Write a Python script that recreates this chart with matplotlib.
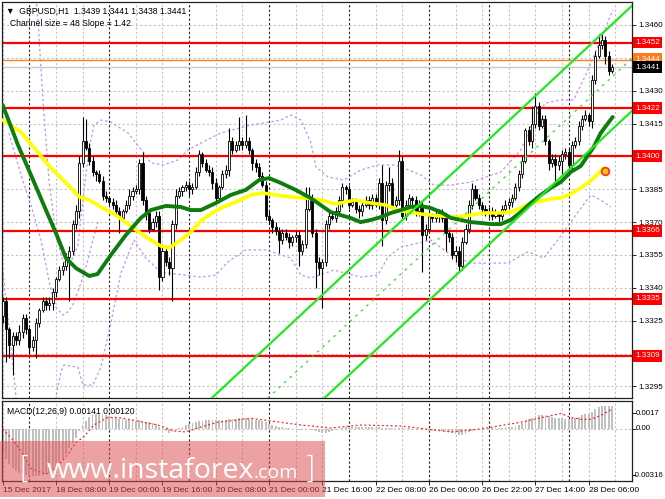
import matplotlib
matplotlib.use('Agg')
import matplotlib.pyplot as plt
from matplotlib.patches import Rectangle

plt.rcParams['font.family'] = ['Liberation Sans', 'DejaVu Sans']

# hourly candles, bar 0 = 15 Dec 16:00
closes = [
    1.3334, 1.3321, 1.3314, 1.3318, 1.3316, 1.3320, 1.3326, 1.3321, 1.3313, 1.3316,
    1.3324, 1.3330, 1.3334, 1.3332, 1.3333, 1.3338, 1.3344, 1.3348, 1.3350, 1.3354,
    1.3357, 1.3369, 1.3375, 1.3397, 1.3407, 1.3404, 1.3398, 1.3393, 1.3392, 1.3389,
    1.3382, 1.3381, 1.3379, 1.3378, 1.3375, 1.3372, 1.3375, 1.3378, 1.3382, 1.3384,
    1.3385, 1.3397, 1.3380, 1.3374, 1.3367, 1.3370, 1.3373, 1.3345, 1.3357, 1.3352,
    1.3349, 1.3369, 1.3382, 1.3384, 1.3386, 1.3387, 1.3385, 1.3386, 1.3393, 1.3401,
    1.3397, 1.3394, 1.3393, 1.3388, 1.3381, 1.3386, 1.3392, 1.3394, 1.3407, 1.3403,
    1.3405, 1.3407, 1.3405, 1.3407, 1.3403, 1.3397, 1.3395, 1.3391, 1.3387, 1.3373,
    1.3371, 1.3368, 1.3366, 1.3362, 1.3365, 1.3363, 1.3361, 1.3363, 1.3364, 1.3357,
    1.3360, 1.3376, 1.3381, 1.3365, 1.3352, 1.3349, 1.3352, 1.3369, 1.3373, 1.3372,
    1.3375, 1.3380, 1.3386, 1.3385, 1.3378, 1.3379, 1.3376, 1.3375, 1.3378, 1.3380,
    1.3378, 1.3381, 1.3378, 1.3388, 1.3371, 1.3387, 1.3388, 1.3378, 1.3380, 1.3398,
    1.3373, 1.3378, 1.3381, 1.3380, 1.3375, 1.3378, 1.3364, 1.3367, 1.3373, 1.3372,
    1.3373, 1.3374, 1.3372, 1.3365, 1.3363, 1.3355, 1.3357, 1.3350, 1.3361, 1.3367,
    1.3378, 1.3385, 1.3381, 1.3378, 1.3376, 1.3374, 1.3375, 1.3373, 1.3374, 1.3373,
    1.3376, 1.3378, 1.3379, 1.3381, 1.3386, 1.3392, 1.3398, 1.3412, 1.3407, 1.3415,
    1.3423, 1.3414, 1.3417, 1.3407, 1.3397, 1.3399, 1.3396, 1.3398, 1.3401, 1.3402,
    1.3396, 1.3405, 1.3407, 1.3414, 1.3417, 1.3419, 1.3416, 1.3435, 1.3446, 1.3451,
    1.3453, 1.3446, 1.3439, 1.3441]
first_open = 1.3327
# wick lengths in pips
upper_wick = [
    2, 2, 1, 2, 2, 3, 2, 2, 1, 2, 2, 1, 2, 2, 3, 2, 1, 2, 2, 2,
    2, 2, 3, 3, 11, 10, 2, 2, 1, 2, 2, 2, 1, 2, 2, 2, 1, 2, 3, 2,
    2, 2, 5, 2, 1, 2, 2, 2, 3, 2, 2, 2, 3, 2, 1, 2, 2, 2, 2, 2,
    1, 2, 2, 2, 2, 1, 2, 2, 6, 2, 2, 11, 2, 12, 2, 1, 2, 2, 2, 2,
    2, 1, 2, 2, 2, 2, 2, 1, 2, 2, 2, 10, 5, 2, 2, 2, 1, 2, 2, 2,
    2, 2, 2, 1, 2, 2, 2, 2, 1, 2, 2, 2, 2, 2, 8, 2, 7, 2, 2, 5,
    2, 2, 2, 1, 2, 2, 2, 2, 2, 1, 2, 2, 2, 2, 1, 2, 2, 2, 2, 2,
    2, 3, 2, 2, 1, 2, 2, 2, 2, 1, 2, 2, 2, 2, 2, 2, 2, 1, 2, 8,
    6, 2, 2, 2, 1, 2, 2, 2, 2, 2, 2, 2, 2, 2, 2, 2, 1, 2, 2, 5,
    3, 2, 2, 1]
lower_wick = [
    3, 15, 6, 14, 2, 2, 3, 2, 3, 2, 8, 2, 1, 2, 2, 3, 2, 1, 2, 2,
    20, 2, 2, 3, 2, 1, 2, 2, 3, 1, 2, 2, 1, 2, 2, 7, 2, 1, 2, 2,
    1, 2, 2, 3, 2, 1, 2, 6, 2, 2, 3, 15, 2, 1, 2, 2, 3, 2, 1, 2,
    2, 1, 2, 3, 2, 2, 1, 2, 3, 2, 1, 2, 2, 1, 2, 3, 2, 2, 1, 2,
    2, 3, 2, 6, 2, 1, 3, 2, 2, 7, 2, 2, 1, 2, 12, 3, 18, 2, 2, 1,
    2, 2, 3, 2, 2, 1, 2, 3, 2, 1, 2, 2, 1, 2, 12, 2, 3, 2, 1, 2,
    2, 2, 1, 3, 2, 2, 17, 2, 1, 2, 2, 3, 2, 8, 2, 2, 3, 3, 2, 1,
    2, 2, 1, 2, 2, 1, 2, 2, 1, 3, 2, 1, 2, 2, 1, 2, 2, 1, 2, 3,
    2, 2, 1, 2, 3, 2, 7, 2, 6, 2, 3, 2, 1, 2, 2, 1, 2, 3, 2, 1,
    2, 4, 2, 1]

# moving averages (bar, price)
green_ma_bar = [0, 4.6, 8.5, 13, 16, 19, 22, 26, 28.5, 32.5, 37, 41.5, 44.5, 49, 53.5,
                56.5, 59.5, 64, 68.5, 73, 77, 80, 83.5, 88, 92.5, 95.5, 98.5, 101.5,
                104.5, 107.5, 110.6, 113.6, 116.6, 119.6, 122.6, 125.6, 128.6, 131.6,
                134.6, 137.6, 140.6, 143.6, 146.6, 149.6, 152.6, 155.6, 158.6, 161.6,
                164.6, 167.6, 170.6, 173.6, 177.5, 179.6, 183.2]
green_ma = [1.34235, 1.34052, 1.33915, 1.33755, 1.33650, 1.33536, 1.33490, 1.33454,
            1.33463, 1.33550, 1.33641, 1.33719, 1.33755, 1.33774, 1.33769, 1.33755,
            1.33755, 1.33787, 1.33824, 1.33847, 1.33892, 1.33901, 1.33879, 1.33847,
            1.33810, 1.33778, 1.33746, 1.33732, 1.33719, 1.33700, 1.33710, 1.33723,
            1.33742, 1.33755, 1.33769, 1.33774, 1.33764, 1.33746, 1.33719, 1.33710,
            1.33700, 1.33696, 1.33691, 1.33691, 1.33710, 1.33746, 1.33787, 1.33824,
            1.33856, 1.33883, 1.33929, 1.33956, 1.34043, 1.34107, 1.34180]
yellow_ma_bar = [0, 5.5, 10, 14.5, 19, 23, 26, 29.5, 34, 38.5, 43, 47.5, 50, 53.5, 56.5,
                 59.5, 62.5, 65.5, 70, 74.5, 78, 82, 86.5, 91, 95.5, 100, 103, 106,
                 110.6, 115, 119.6, 122.6, 125.6, 131.6, 136.1, 140.6, 145.1, 149.6,
                 152.6, 155.6, 158.6, 161.6, 164.6, 167.6, 170.6, 173.6, 176.6, 180.5]
yellow_ma = [1.34166, 1.34111, 1.34029, 1.33947, 1.33879, 1.33815, 1.33801, 1.33769,
             1.33732, 1.33682, 1.33632, 1.33591, 1.33582, 1.33618, 1.33655, 1.33705,
             1.33737, 1.33764, 1.33792, 1.33824, 1.33833, 1.33824, 1.33815, 1.33810,
             1.33801, 1.33783, 1.33792, 1.33801, 1.33787, 1.33778, 1.33751, 1.33746,
             1.33737, 1.33728, 1.33723, 1.33732, 1.33742, 1.33742, 1.33746, 1.33764,
             1.33787, 1.33796, 1.33806, 1.33810, 1.33828, 1.33856, 1.33888, 1.33947]

# purple dotted bands (bar, price)
band_up_bar = [10.0, 10.6, 12.1, 13.9, 16.0, 18.1, 20.5, 22.6, 24.1, 25.9, 27.4, 29.5,
               32.5, 37.6, 42.4, 44.5, 48.4, 52.6, 55.6, 59.5, 65.5, 74.5, 83.5, 86.5,
               89.6, 92.6, 94.1, 97.7, 102.5, 107.6, 112.7, 117.5, 119.6, 125.6, 129.5,
               134.6, 140.6, 149.6, 155.6, 160.1, 163.1, 167.6, 171.5, 175.1, 179.6,
               183.2]
band_up = [1.34737, 1.34623, 1.34258, 1.33892, 1.33641, 1.33518, 1.33518, 1.33595,
           1.33801, 1.34029, 1.34143, 1.34166, 1.34157, 1.34107, 1.34016, 1.33970,
           1.33961, 1.33984, 1.34029, 1.34061, 1.34107, 1.34143, 1.34166, 1.34189,
           1.34166, 1.34061, 1.33952, 1.33906, 1.33892, 1.33938, 1.33961, 1.33961,
           1.33952, 1.33915, 1.33869, 1.33869, 1.33883, 1.33929, 1.34029, 1.34189,
           1.34244, 1.34258, 1.34258, 1.34372, 1.34532, 1.34668]
band_mid_bar = [1.9, 5.5, 8.5, 11.5, 14.5, 16.0, 18.1, 19.6, 21.1, 23.5, 25.6, 27.1, 28.6]
band_mid = [1.34107, 1.33915, 1.33778, 1.33618, 1.33390, 1.33312, 1.33276, 1.33290,
            1.33322, 1.33422, 1.33527, 1.33618, 1.33700]
band_dn_bar = [0, 1.0, 2.5, 4.0, 4.9, 14.5, 16.0, 17.5, 18.4, 20.5, 22.6, 24.1, 27.1,
               29.5, 32.5, 35.5, 39.4, 43.0, 47.5, 49.6, 59.5, 64.0, 67.6, 73.0, 79.0,
               86.5, 89.6, 92.6, 99.5, 107.6, 112.7, 115.7, 119.6, 128.6, 134.6, 140.6,
               151.7, 157.7, 162.5, 166.7, 172.1, 176.6, 179.6, 182.6]
band_dn = [1.33490, 1.33344, 1.33139, 1.32901, 1.32751, 1.32751, 1.32901, 1.33016,
           1.33048, 1.33043, 1.33038, 1.32956, 1.32956, 1.33038, 1.33239, 1.33468,
           1.33618, 1.33536, 1.33472, 1.33468, 1.33449, 1.33458, 1.33518, 1.33573,
           1.33573, 1.33536, 1.33458, 1.33445, 1.33481, 1.33449, 1.33458, 1.33541,
           1.33586, 1.33618, 1.33550, 1.33513, 1.33513, 1.33564, 1.33536, 1.33618,
           1.33732, 1.33824, 1.33801, 1.33769]

# regression channel: middle line ends, half width 24 pips
chan_bar = [50, 189]
chan_mid = [1.32475, 1.34448]
chan_half = 0.0024

levels = [1.3452, 1.3422, 1.3400, 1.3366, 1.3335, 1.3309]
orange_level = 1.3444
bid = 1.3441
yellow_dot = (180.8, 1.33933)

# MACD main (hist) in 1e-5, one per bar
macd_hist = [
    -150, -180, -210, -240, -258, -270, -276, -280, -284, -285,
    -285, -283, -280, -276, -268, -250, -240, -215, -185, -150,
    -115, -85, -55, -15, 25, 50, 70, 85, 94, 94,
    90, 85, 78, 73, 68, 62, 58, 55, 53, 52,
    50, 52, 50, 45, 40, 36, 30, 15, 5, -10,
    -25, -20, -8, 5, 15, 25, 32, 38, 42, 47,
    50, 52, 52, 53, 52, 53, 55, 57, 60, 62,
    63, 64, 65, 65, 63, 60, 56, 52, 47, 40,
    33, 26, 20, 14, 10, 7, 4, 2, 0, -4,
    -6, -3, 0, -5, -12, -20, -25, -22, -16, -10,
    -4, 2, 8, 12, 13, 12, 12, 11, 11, 11,
    10, 10, 9, 10, 6, 6, 7, 5, 5, 8,
    4, 3, 3, 2, 1, 1, -6, -9, -10, -11,
    -11, -11, -12, -16, -20, -27, -31, -38, -36, -30,
    -20, -10, -5, -2, 0, 2, 3, 4, 5, 6,
    8, 10, 12, 15, 20, 27, 35, 50, 58, 68,
    80, 84, 87, 84, 76, 72, 68, 66, 64, 63,
    62, 64, 68, 74, 82, 88, 92, 105, 120, 131,
    137, 140, 141, 141]
signal_bar = [0, 2.5, 5.5, 8.5, 13, 16, 19.6, 22, 24.4, 27.4, 31.6, 34.6, 39.4, 46.6,
              51.4, 55, 59.5, 64.6, 74.6, 89.6, 98.5, 107.6, 119.6, 134.6, 143.6,
              155.6, 167.6, 170.6, 173.6, 176.6, 179.6, 183]
signal = [0, -53, -135, -240, -276, -240, -153, -82, -47, 24, 70, 70, 53, 24, -12,
          -18, 12, 41, 65, 24, 6, 24, 18, -18, 0, 41, 94, 70, 59, 59, 82, 120]

xlabels = ['15 Dec 2017', '18 Dec 08:00', '19 Dec 00:00', '19 Dec 16:00',
           '20 Dec 08:00', '21 Dec 00:00', '21 Dec 16:00', '22 Dec 08:00',
           '26 Dec 06:00', '26 Dec 22:00', '27 Dec 14:00', '28 Dec 06:00']
xlabel_bars = [0, 16, 32, 48, 64, 80, 96, 112, 128, 144, 160, 176]
day_breaks = [8, 32, 56, 80, 104, 128, 146, 170]

FS = 5.8
grid_col = '#c4c4c4'
band_col = '#c690ee'

fig = plt.figure(figsize=(6.65, 4.99), dpi=100)
ax = fig.add_axes([2 / 665, 1 - 398 / 499, 630 / 665, 396 / 499])
mx = fig.add_axes([2 / 665, 1 - 481 / 499, 630 / 665, 80 / 499])

xlim = (-0.2, 189.0)


def style_axis(a):
    a.set_xlim(*xlim)
    a.yaxis.tick_right()
    a.tick_params(axis='y', labelsize=FS, length=3, pad=1.5, width=0.6)
    for s in a.spines.values():
        s.set_color('#202020')
        s.set_linewidth(0.9)
    for b in range(0, 189, 8):
        if b not in day_breaks:
            a.axvline(b, color=grid_col, lw=0.8, ls=(0, (2, 2)), zorder=0)
    for b in day_breaks:
        a.axvline(b, color='#202020', lw=0.8, ls=(0, (2, 2)), zorder=0.5)


style_axis(ax)
style_axis(mx)

# ---- main price panel
ax.set_ylim(1.32897, 1.34705)
yt = [round(1.3295 + 0.0015 * k, 4) for k in range(12)]
hidden = [1.3310, 1.3400, 1.3445]   # covered by the level boxes
ax.set_yticks(yt)
ax.set_yticklabels(['' if v in hidden else '%.4f' % v for v in yt])
for v in yt:
    ax.axhline(v, color=grid_col, lw=0.8, ls=(0, (2, 2)), zorder=0)
ax.set_xticks([])

# candles
opens = [first_open] + closes[:-1]
for i in range(len(closes)):
    o, c = opens[i], closes[i]
    hi = max(o, c) + upper_wick[i] * 0.0001
    lo = min(o, c) - lower_wick[i] * 0.0001
    ax.vlines(i, lo, hi, color='black', lw=0.8, zorder=3)
    h = max(abs(c - o), 0.00004)
    col = 'white' if c >= o else 'black'
    ax.bar(i, h, bottom=min(o, c), width=0.62, color=col, edgecolor='black',
           lw=0.6, zorder=4)

# bands and averages
for bx, by in [(band_up_bar, band_up), (band_mid_bar, band_mid), (band_dn_bar, band_dn)]:
    ax.plot(bx, by, color=band_col, lw=0.9, ls=(0, (2, 2)), zorder=2)
ax.plot(yellow_ma_bar, yellow_ma, color='#ffff00', lw=2.6, zorder=5, solid_capstyle='round')
ax.plot(green_ma_bar, green_ma, color='#0e7c0e', lw=2.8, zorder=6, solid_capstyle='round')
ax.plot(*yellow_dot, 'o', ms=5.5, mfc='#ffd000', mec='#ff3030', mew=1.3, zorder=7)

# channel
for off, ls, lw in [(chan_half, '-', 1.6), (0, (0, (2, 4)), 0.9), (-chan_half, '-', 1.6)]:
    ax.plot(chan_bar, [m + off for m in chan_mid], color='#22e822', lw=lw, ls=ls, zorder=6)

# horizontal levels with price boxes
ytr = ax.get_yaxis_transform()
bx0 = 1.0048
ax.axhline(bid, color='#c8c8c8', lw=1.0, zorder=1)
ax.axhline(orange_level, color='#ff8020', lw=1.0, zorder=2)
for v in levels:
    ax.axhline(v, color='#ff0000', lw=1.6, zorder=2)
    ax.text(bx0, v, '%.4f' % v, transform=ytr, fontsize=FS, color='white',
            va='center', ha='left', zorder=10,
            bbox=dict(boxstyle='square,pad=0.3', fc='#ff0000', ec='none'))
ax.text(bx0, orange_level + 0.00004, '%.4f' % orange_level, transform=ytr, fontsize=FS,
        color='white', va='center', ha='left', zorder=10,
        bbox=dict(boxstyle='square,pad=0.3', fc='#ff7a1a', ec='none'))
ax.text(bx0, bid - 0.00002, '%.4f' % bid, transform=ytr, fontsize=FS, color='white',
        va='center', ha='left', zorder=11,
        bbox=dict(boxstyle='square,pad=0.3', fc='black', ec='none'))

ax.text(0.006, 0.987, '\u25bc  GBPUSD,H1  1.3439 1.3441 1.3438 1.3441',
        transform=ax.transAxes, fontsize=FS + 0.4, va='top', ha='left')
ax.text(0.012, 0.958, 'Channel size = 48 Slope = 1.42', transform=ax.transAxes,
        fontsize=FS + 0.4, va='top', ha='left')

# ---- MACD panel
mx.set_ylim(-0.00316, 0.0017)
mtick_val = [0.00096, 0.0, -0.00282]
mtick_txt = ['0.0017', '0.00', '-0.00316']
mtick_x = [1.0063, 1.0063, 1.0016]
mx.set_yticks(mtick_val)
mx.set_yticklabels(['', '', ''])
for v, t, xx in zip(mtick_val, mtick_txt, mtick_x):
    mx.text(xx, v, t, transform=mx.get_yaxis_transform(), fontsize=FS - 0.1,
            va='center', ha='left')
mx.axhline(0, color=grid_col, lw=0.8, ls=(0, (2, 2)), zorder=0)
mx.bar(range(len(macd_hist)), [v * 1e-5 for v in macd_hist], width=0.55,
       color='#c0c0c0', zorder=2)
mx.plot(signal_bar, [v * 1e-5 for v in signal], color='#ff2020', lw=0.9,
        ls=(0, (1.5, 2)), zorder=3)
mx.text(0.008, 0.93, 'MACD(12,26,9) 0.00141 0.00120', transform=mx.transAxes,
        fontsize=FS + 0.4, va='top', ha='left')
mx.set_xticks(xlabel_bars)
mx.set_xticklabels(xlabels, ha='left')
mx.tick_params(axis='x', labelsize=FS + 0.2, length=3, pad=1, width=0.6)

# watermark
fig.add_artist(Rectangle((0, 2 / 499), 325 / 665, 56 / 499, transform=fig.transFigure,
                         fc=(0.86, 0.3, 0.3), ec='none', alpha=0.52, zorder=20))
fig.text(47 / 665, 1 - 478 / 499, 'www.instaforex', color='white', fontsize=20.5,
         family='Open Sans', va='baseline', zorder=21)
fig.text(254 / 665, 1 - 478 / 499, '.com', color='white', fontsize=14,
         family='Open Sans', va='baseline', zorder=21)
fig.text(19 / 665, 1 - 478 / 499, '[', color='white', fontsize=22,
         family='DejaVu Sans', weight='light', va='baseline', zorder=21)
fig.text(304 / 665, 1 - 478 / 499, ']', color='white', fontsize=22,
         family='DejaVu Sans', weight='light', va='baseline', zorder=21)

plt.savefig('out.png', dpi=100)
plt.close()
